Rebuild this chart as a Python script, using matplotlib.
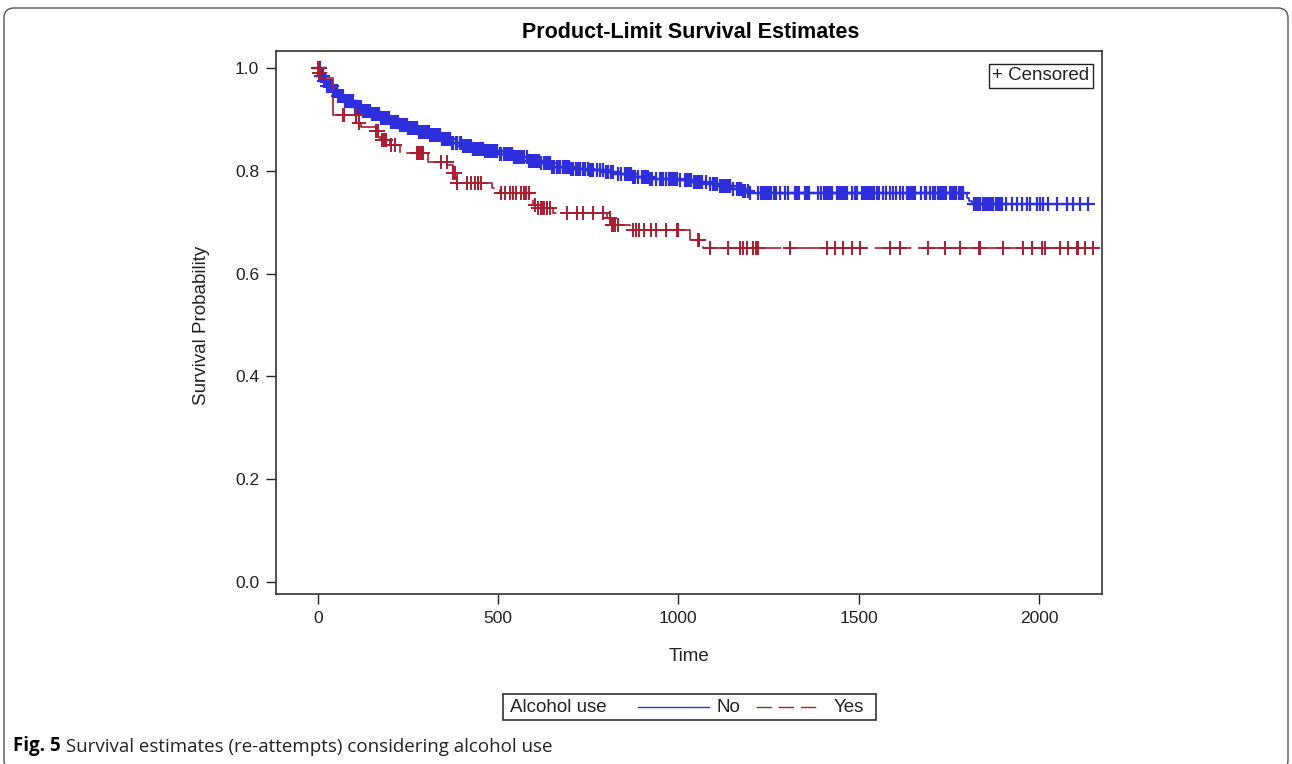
import matplotlib.pyplot as plt
import numpy as np
from matplotlib.patches import FancyBboxPatch, Rectangle
from matplotlib.lines import Line2D

plt.rcParams['font.family'] = ['Liberation Sans', 'DejaVu Sans']

# Kaplan-Meier step points (time, survival after the event)
no_times = [0, 8, 15, 25, 40, 55, 75, 100, 125, 150, 175, 200, 225, 250, 280,
            310, 340, 370, 400, 430, 460, 500, 540, 580, 620, 650, 700, 750,
            800, 830, 870, 920, 1000, 1040, 1080, 1110, 1150, 1175, 1198,
            1800, 1807, 1814]
no_surv = [1.0, 0.985, 0.975, 0.965, 0.955, 0.945, 0.935, 0.925, 0.917, 0.91,
           0.902, 0.895, 0.889, 0.883, 0.876, 0.869, 0.862, 0.855, 0.849,
           0.843, 0.838, 0.832, 0.826, 0.82, 0.815, 0.808, 0.804, 0.801,
           0.798, 0.793, 0.788, 0.785, 0.782, 0.778, 0.774, 0.77, 0.765,
           0.761, 0.757, 0.747, 0.741, 0.735]
no_end = 2141

yes_times = [0, 3, 8, 42, 107, 120, 160, 172, 200, 227, 305, 358, 375, 385,
             483, 505, 596, 610, 652, 801, 815, 865, 1032, 1068]
yes_surv = [1.0, 0.99, 0.98, 0.909, 0.893, 0.886, 0.877, 0.86, 0.85, 0.835,
            0.817, 0.811, 0.796, 0.776, 0.766, 0.757, 0.733, 0.728, 0.718,
            0.708, 0.695, 0.685, 0.665, 0.65]
yes_end = 2150

# censored observation times
no_cens = [2, 5, 9, 13, 16, 21, 25, 30, 34, 38, 43, 47, 52, 57, 61, 66, 70, 75,
           80, 84, 89, 93, 98, 103, 108, 112, 117, 121, 126, 131, 135, 140, 146,
           150, 155, 160, 164, 169, 175, 179, 184, 189, 194, 198, 203, 208, 213,
           218, 222, 227, 232, 237, 242, 246, 251, 256, 261, 266, 270, 276, 281,
           287, 292, 297, 302, 307, 312, 318, 323, 328, 334, 339, 344, 350, 355,
           360, 366, 371, 376, 382, 387, 393, 398, 404, 409, 414, 420, 425, 431,
           437, 442, 448, 453, 459, 465, 470, 476, 481, 487, 492, 498, 504, 509,
           515, 521, 527, 532, 538, 544, 550, 556, 561, 567, 573, 579, 585, 590,
           596, 602, 608, 614, 620, 626, 632, 638, 644, 650, 656, 662, 668, 673,
           679, 685, 691, 697, 703, 709, 715, 721, 726, 736, 742, 748, 754, 760,
           763, 773, 782, 791, 800, 806, 812, 819, 833, 842, 851, 857, 863, 869,
           874, 879, 888, 898, 904, 910, 916, 922, 928, 939, 948, 954, 958, 967,
           973, 979, 985, 991, 997, 1004, 1018, 1024, 1030, 1036, 1042, 1048,
           1054, 1060, 1066, 1078, 1087, 1096, 1102, 1108, 1115, 1120, 1126,
           1132, 1138, 1143, 1152, 1162, 1168, 1174, 1180, 1186, 1192, 1199,
           1222, 1228, 1234, 1240, 1246, 1252, 1258, 1264, 1270, 1282, 1296,
           1305, 1323, 1329, 1335, 1351, 1357, 1363, 1388, 1397, 1403, 1409,
           1415, 1421, 1427, 1439, 1445, 1451, 1457, 1463, 1469, 1481, 1490,
           1496, 1508, 1514, 1520, 1526, 1532, 1538, 1544, 1550, 1556, 1568,
           1577, 1586, 1596, 1605, 1614, 1623, 1633, 1639, 1645, 1651, 1657,
           1674, 1684, 1688, 1697, 1707, 1713, 1719, 1725, 1731, 1737, 1743,
           1753, 1759, 1765, 1771, 1777, 1783, 1789, 1820, 1826, 1832, 1838,
           1844, 1850, 1856, 1862, 1868, 1874, 1880, 1886, 1892, 1898, 1910,
           1924, 1938, 1952, 1966, 1975, 1994, 2003, 2012, 2026, 2049, 2077,
           2095, 2114, 2137]
yes_cens = [0, 2, 4, 6, 69, 72, 106, 115, 162, 166, 178, 182, 186, 190, 204,
            213, 276, 279, 282, 285, 288, 291, 343, 357, 375, 380, 385, 415,
            425, 435, 445, 452, 509, 518, 532, 541, 550, 564, 573, 577, 587,
            602, 612, 625, 635, 644, 620, 628, 636, 690, 718, 736, 764, 792,
            810, 815, 820, 825, 832, 874, 883, 892, 906, 924, 937, 967, 995,
            999, 1054, 1058, 1087, 1137, 1171, 1180, 1190, 1208, 1215, 1220,
            1309, 1412, 1434, 1457, 1481, 1503, 1587, 1614, 1692, 1739, 1781,
            1834, 1836, 1900, 1956, 1980, 2008, 2017, 2058, 2080, 2105, 2108,
            2128, 2150]

blue = '#2E2EDC'
red = '#AC1C30'
txt = '#222222'
W, H = 1292, 764


def step_at(times, surv, t):
    idx = np.searchsorted(times, t, side='right') - 1
    return np.asarray(surv)[idx]


fig = plt.figure(figsize=(W / 100, H / 100), dpi=100)
ax = fig.add_axes([276 / W, 1 - 594 / H, 826 / W, 543 / H])

ax.step(no_times + [no_end], no_surv + [no_surv[-1]], where='post',
        color=blue, lw=1.2)
ax.plot(no_cens, step_at(no_times, no_surv, no_cens), ls='none', marker='+',
        ms=10.5, mew=1.6, color=blue)

ax.step(yes_times + [yes_end], yes_surv + [yes_surv[-1]], where='post',
        color=red, lw=1.2, dashes=(22, 4))
ax.plot(yes_cens, step_at(yes_times, yes_surv, yes_cens), ls='none',
        marker='+', ms=10.5, mew=1.4, color=red)

ax.set_xlim(-116, 2175)
ax.set_ylim(-0.023, 1.033)
ax.set_xticks([0, 500, 1000, 1500, 2000])
ax.set_yticks([0.0, 0.2, 0.4, 0.6, 0.8, 1.0])
ax.set_yticklabels(['0.0', '0.2', '0.4', '0.6', '0.8', '1.0'])
ax.tick_params(direction='out', length=7, width=1, labelsize=12.5, pad=5,
               colors=txt)
for s in ax.spines.values():
    s.set_linewidth(1.2)
    s.set_color('#333333')

ax.set_xlabel('Time', fontsize=13.5, color=txt)
ax.xaxis.set_label_coords(0.5, -0.1)
ax.set_ylabel('Survival Probability', fontsize=13.5, color=txt)
ax.yaxis.set_label_coords(-0.08, 0.495)

fig.text(691 / W, 1 - 32 / H, 'Product-Limit Survival Estimates',
         ha='center', va='center', fontsize=15.5, fontweight='bold')

fig.text(1041 / W, 1 - 76 / H, '+ Censored', ha='center', va='center',
         fontsize=13.5, color=txt,
         bbox=dict(boxstyle='square,pad=0.2', fc='white', ec=txt, lw=1))

# bottom legend
fig.add_artist(Rectangle((503 / W, 1 - 720 / H), 373 / W, 26 / H,
                         transform=fig.transFigure, fill=False,
                         ec='#333333', lw=1.2))
ly = 1 - 707 / H
fig.text(510 / W, ly, 'Alcohol use', ha='left', va='center', fontsize=13.5,
         color=txt)
fig.add_artist(Line2D([638 / W, 709 / W], [ly, ly], transform=fig.transFigure,
                      color=blue, lw=1))
fig.text(717 / W, ly, 'No', ha='left', va='center', fontsize=13.5,
         color=txt)
fig.add_artist(Line2D([756 / W, 818 / W], [ly, ly], transform=fig.transFigure,
                      color=red, lw=1, dashes=(11, 5)))
fig.text(834 / W, ly, 'Yes', ha='left', va='center', fontsize=13.5,
         color=txt)

# caption
cap = fig.text(13 / W, 1 - 746 / H, 'Fig. 5', ha='left', va='center',
               fontsize=13.5, fontweight='bold',
               family=['Open Sans', 'DejaVu Sans'])
ax.annotate(' Survival estimates (re-attempts) considering alcohol use',
            xy=(1, 0), xycoords=cap, ha='left', va='bottom', fontsize=13.5,
            family=['Open Sans', 'DejaVu Sans'], color=txt,
            annotation_clip=False)

fig.add_artist(FancyBboxPatch((0.04, -0.06), 12.84, 7.62,
                              boxstyle='round,pad=0,rounding_size=0.1',
                              transform=fig.dpi_scale_trans, fill=False,
                              ec='#555555', lw=1))

fig.savefig('out.png', dpi=100)
